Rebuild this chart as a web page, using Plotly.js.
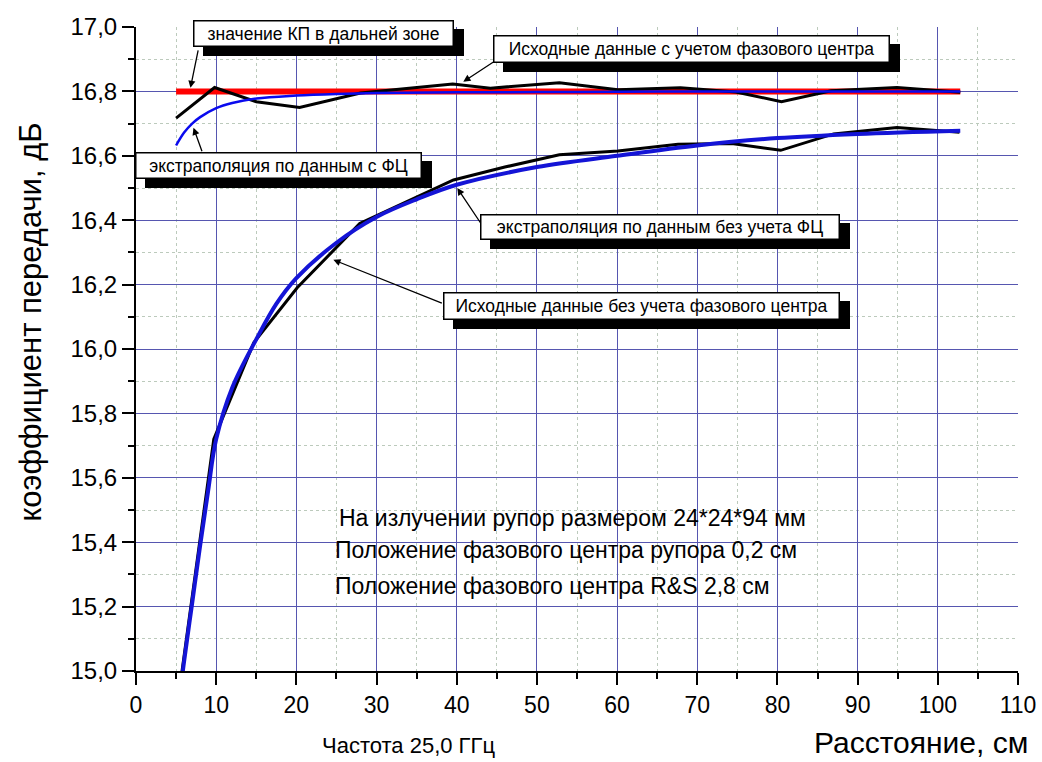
<!DOCTYPE html>
<html>
<head>
<meta charset="utf-8">
<script src="https://cdn.plot.ly/plotly-3.0.1.min.js"></script>
<style>html,body{margin:0;padding:0;background:#fff;}#chart{width:1042px;height:762px;}</style>
</head>
<body>
<div id="chart"></div>
<script>
// Red line: far-zone gain value
var farX = [5.0, 102.8];
var farY = [16.8, 16.8];

// Original data with phase centre (black, upper)
var pcX = [5.0, 9.8, 15.0, 20.4, 28.0, 39.5, 44.2, 52.8, 60.1, 67.9, 74.8, 80.5, 86.7, 94.9, 102.8];
var pcY = [16.717, 16.812, 16.768, 16.750, 16.795, 16.823, 16.810, 16.827, 16.805, 16.811, 16.798, 16.768, 16.802, 16.812, 16.797];

// Extrapolation from data with phase centre (blue, upper)
var fitPcX = [5.0, 6, 7, 8, 10, 12, 15, 20, 25, 30, 40, 50, 60, 70, 80, 90, 102.8];
var fitPcY = [16.632, 16.672, 16.700, 16.720, 16.748, 16.764, 16.778, 16.787, 16.792, 16.795, 16.797, 16.798, 16.799, 16.800, 16.800, 16.800, 16.800];

// Original data without phase centre (black, lower)
var rawX = [5.3, 9.7, 14.7, 20.1, 27.9, 39.6, 46.0, 52.8, 60.1, 67.6, 74.3, 80.4, 87.0, 94.9, 102.7];
var rawY = [14.92, 15.72, 16.02, 16.19, 16.39, 16.525, 16.565, 16.603, 16.615, 16.636, 16.638, 16.617, 16.668, 16.688, 16.673];

// Extrapolation from data without phase centre (blue, lower)
var fitRawX = [5.5, 6, 7, 8, 9, 10, 12, 15, 17.5, 20, 25, 30, 35, 40, 50, 60, 70, 80, 90, 102.8];
var fitRawY = [14.93, 15.03, 15.21, 15.39, 15.56, 15.72, 15.88, 16.03, 16.14, 16.22, 16.33, 16.41, 16.465, 16.51, 16.565, 16.60, 16.632, 16.655, 16.668, 16.678];

var xTickVals = [0, 10, 20, 30, 40, 50, 60, 70, 80, 90, 100, 110];
var yTickVals = [15.0, 15.2, 15.4, 15.6, 15.8, 16.0, 16.2, 16.4, 16.6, 16.8, 17.0];

var boxTexts = [
  'значение КП в дальней зоне',
  'Исходные данные с учетом фазового центра',
  'экстраполяция по данным с ФЦ',
  'экстраполяция по данным без учета ФЦ',
  'Исходные данные без учета фазового центра'
];
var noteTexts = [
  'На излучении рупор размером 24*24*94 мм',
  'Положение фазового центра рупора 0,2 см',
  'Положение фазового центра R&S 2,8 см'
];
var xTitle = 'Расстояние, см';
var yTitle = 'коэффициент передачи, дБ';
var freqText = 'Частота 25,0 ГГц';

var FONT = '"Liberation Sans", Arial, sans-serif';

var traces = [
  {x: farX, y: farY, mode: 'lines', line: {color: '#ff0000', width: 6}, hoverinfo: 'skip'},
  {x: pcX, y: pcY, mode: 'lines', line: {color: '#000000', width: 3}},
  {x: fitPcX, y: fitPcY, mode: 'lines', line: {color: '#0a0aee', width: 2.5, shape: 'spline'}},
  {x: rawX, y: rawY, mode: 'lines', line: {color: '#000000', width: 3}},
  {x: fitRawX, y: fitRawY, mode: 'lines', line: {color: '#1414d6', width: 4, shape: 'spline'}}
];

// boxes: [x, y, w, h]
var boxGeom = [
  [23.43, 16.979, 261, 27],
  [69.29, 16.933, 397, 28],
  [17.82, 16.569, 287, 27],
  [65.37, 16.378, 360, 26],
  [63.06, 16.134, 397, 28]
];
// arrows: [x, y, ax, ay]
var arrowGeom = [
  [6.79, 16.811, 8, -39],
  [40.82, 16.830, 32, -21],
  [7.17, 16.687, 9, 25],
  [40.07, 16.500, 28, 42],
  [24.61, 16.277, 110, 44]
];

var annotations = [];
boxTexts.forEach(function (t, i) {
  var g = boxGeom[i];
  annotations.push({x: g[0], y: g[1], xref: 'x', yref: 'y', text: ' ', showarrow: false,
    xshift: 10, yshift: -9, bgcolor: '#000', bordercolor: '#000', borderwidth: 1.5, borderpad: 0,
    width: g[2] - 3, height: g[3] - 3, font: {family: FONT, size: 17, color: '#000'}});
});
arrowGeom.forEach(function (a) {
  annotations.push({x: a[0], y: a[1], xref: 'x', yref: 'y', text: '', showarrow: true,
    ax: a[2], ay: a[3], arrowhead: 2, arrowsize: 1.1, arrowwidth: 1.3, arrowcolor: '#000',
    standoff: 0, startstandoff: 0, font: {size: 1}});
});
boxTexts.forEach(function (t, i) {
  var g = boxGeom[i];
  annotations.push({x: g[0], y: g[1], xref: 'x', yref: 'y', text: t, showarrow: false,
    bgcolor: '#ffffff', bordercolor: '#000', borderwidth: 1.5, borderpad: 0,
    width: g[2] - 3, height: g[3] - 3, font: {family: FONT, size: 17.5, color: '#000'}});
});
var noteGeom = [[25.11, 15.475], [24.61, 15.375], [24.61, 15.263]];
noteTexts.forEach(function (t, i) {
  annotations.push({x: noteGeom[i][0], y: noteGeom[i][1], xref: 'x', yref: 'y', text: t,
    showarrow: false, xanchor: 'left', yanchor: 'middle', font: {family: FONT, size: 23, color: '#000'}});
});
annotations.push({x: 1.0136, y: -0.1108, xref: 'paper', yref: 'paper', text: xTitle, showarrow: false,
  xanchor: 'right', yanchor: 'middle', font: {family: FONT, size: 30, color: '#000'}});
annotations.push({x: 0.209, y: -0.1155, xref: 'paper', yref: 'paper', text: freqText, showarrow: false,
  xanchor: 'left', yanchor: 'middle', font: {family: FONT, size: 22, color: '#000'}});
annotations.push({x: -0.1195, y: 0.542, xref: 'paper', yref: 'paper', text: yTitle, showarrow: false,
  textangle: -90, xanchor: 'center', yanchor: 'middle', font: {family: FONT, size: 31, color: '#000'}});

var gridMajor = '#5656b0';
var gridMinor = '#bccabc';

var layout = {
  width: 1042, height: 762,
  margin: {l: 136, r: 24, t: 27, b: 91, pad: 0},
  paper_bgcolor: '#ffffff', plot_bgcolor: '#ffffff',
  showlegend: false,
  separators: ', ',
  font: {family: FONT, color: '#000'},
  xaxis: {
    range: [0, 110], tickvals: xTickVals, ticktext: xTickVals.map(String),
    ticks: 'outside', ticklen: 12, tickwidth: 2, tickcolor: '#000',
    showline: true, linewidth: 2, linecolor: '#000', zeroline: false,
    showgrid: true, gridcolor: gridMajor, gridwidth: 1,
    tickfont: {family: FONT, size: 23, color: '#000'},
    minor: {dtick: 5, tick0: 0, ticks: 'outside', ticklen: 6, tickwidth: 2, tickcolor: '#000',
      showgrid: true, gridcolor: gridMinor, griddash: 'dot', gridwidth: 1}
  },
  yaxis: {
    range: [15, 17], tickvals: yTickVals, ticktext: yTickVals.map(function (v) { return v.toFixed(1).replace('.', ','); }),
    ticks: 'outside', ticklen: 12, tickwidth: 2, tickcolor: '#000',
    showline: true, linewidth: 2, linecolor: '#000', zeroline: false,
    showgrid: true, gridcolor: gridMajor, gridwidth: 1,
    tickfont: {family: FONT, size: 24, color: '#000'},
    minor: {dtick: 0.1, tick0: 15, ticks: 'outside', ticklen: 6, tickwidth: 2, tickcolor: '#000',
      showgrid: true, gridcolor: gridMinor, griddash: 'dot', gridwidth: 1}
  },
  shapes: [
    {type: 'line', xref: 'paper', yref: 'paper', x0: 0, x1: 1, y0: 1, y1: 1, layer: 'between', line: {color: '#ffffff', width: 3}},
    {type: 'line', xref: 'paper', yref: 'paper', x0: 1, x1: 1, y0: 0, y1: 1, layer: 'between', line: {color: '#ffffff', width: 3}}
  ],
  annotations: annotations
};

Plotly.newPlot('chart', traces, layout, {displayModeBar: false, staticPlot: true});
</script>
</body>
</html>
